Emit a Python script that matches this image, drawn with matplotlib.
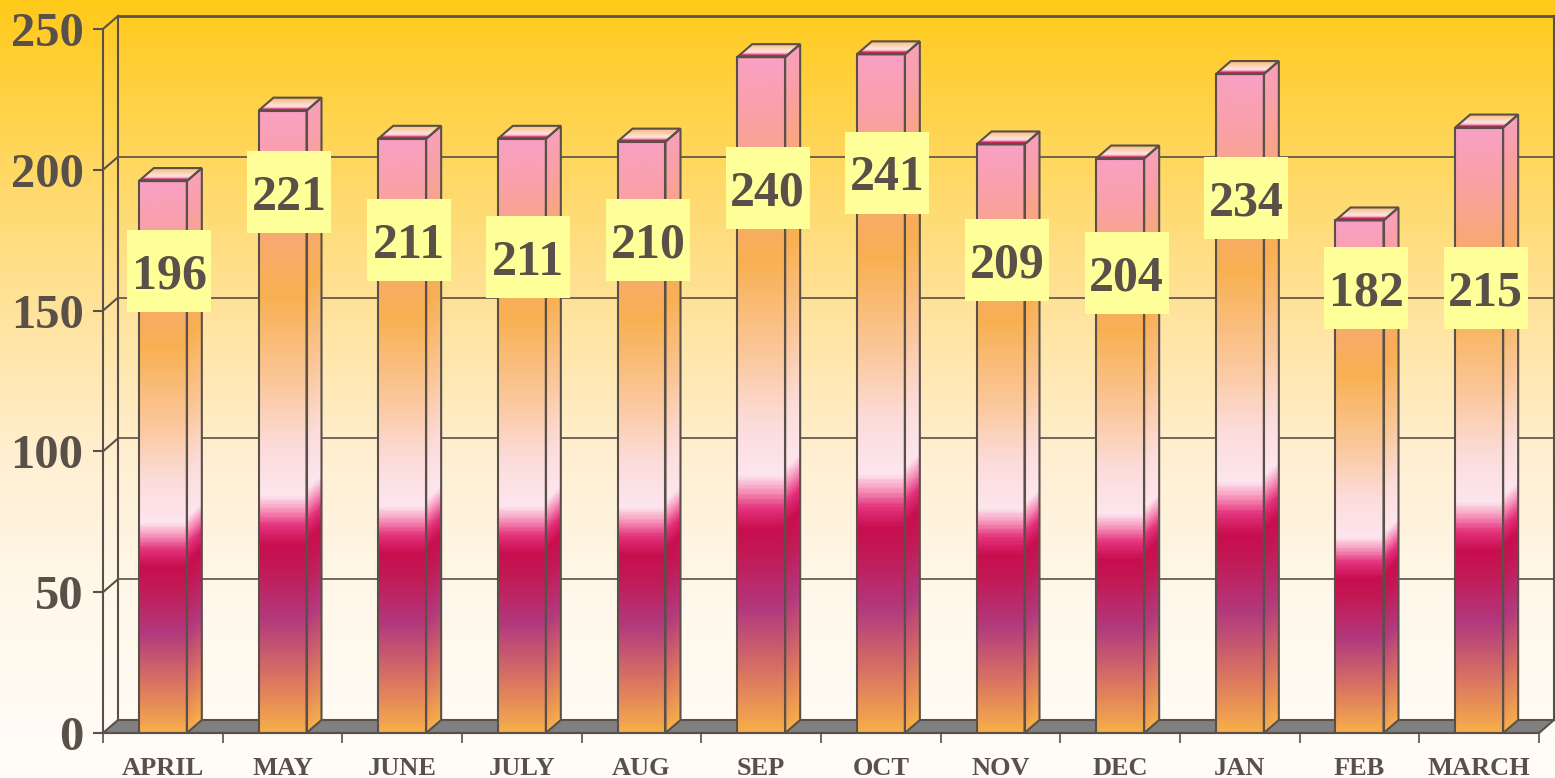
import numpy as np
import matplotlib
matplotlib.use("Agg")
import matplotlib.pyplot as plt
from matplotlib.colors import LinearSegmentedColormap
from matplotlib.patches import Polygon, Rectangle

# data
months = ["APRIL", "MAY", "JUNE", "JULY", "AUG", "SEP",
          "OCT", "NOV", "DEC", "JAN", "FEB", "MARCH"]
values = [196, 221, 211, 211, 210, 240, 241, 209, 204, 234, 182, 215]
yticks = [0, 50, 100, 150, 200, 250]

# where the value boxes sit (data units) - not tied to the bar tops
label_y = [164, 192, 175, 169, 175, 193.5, 199, 168, 163.5, 190, 158, 158]

plt.rcParams["font.family"] = ["Liberation Serif", "DejaVu Serif"]
plt.rcParams["font.weight"] = "bold"

INK = "#595049"
W, H = 1555, 778
fig = plt.figure(figsize=(W / 100, H / 100), dpi=100)

# ── background gradient over the whole figure ──
bg = fig.add_axes([0, 0, 1, 1], zorder=0)
bg_cmap = LinearSegmentedColormap.from_list("bg", [
    (0.00, "#FFFDF8"), (0.22, "#FFF8EB"), (0.40, "#FFF0D4"),
    (0.58, "#FFE4A2"), (0.78, "#FFD864"), (1.00, "#FFCA1A")])
bg.imshow(np.linspace(0, 1, 256).reshape(-1, 1), aspect="auto", cmap=bg_cmap,
          origin="lower", extent=[0, 1, 0, 1])
bg.axis("off")

# front plane of the 3d box
ax = fig.add_axes([103 / W, 45 / H, 1436 / W, 704 / H], zorder=1)
ax.patch.set_alpha(0)

n = len(months)
px_x = 1436 / n        # pixels per category
px_y = 704 / 250       # pixels per unit
dx = 15 / px_x         # depth offset
dy = 13 / px_y
bw = 48 / px_x         # bar width

# ── back wall, grid and floor ──
for y in yticks[1:]:
    ax.plot([dx, n + dx], [y + dy, y + dy], color=INK, lw=1.2 if y < 250 else 2,
            clip_on=False, zorder=1)
    ax.plot([0, dx], [y, y + dy], color=INK, lw=1.5, clip_on=False, zorder=1)
ax.plot([dx, dx], [dy, 250 + dy], color=INK, lw=1.5, clip_on=False, zorder=1)
ax.plot([n + dx, n + dx], [dy, 250 + dy], color=INK, lw=1.5, clip_on=False, zorder=1)
floor = Polygon([(0, 0), (n, 0), (n + dx, dy), (dx, dy)], closed=True,
                facecolor="#808080", edgecolor=INK, lw=1.5, clip_on=False, zorder=2)
ax.add_patch(floor)

# ── bars ──
bar_cmap = LinearSegmentedColormap.from_list("bar", [
    (0.00, "#F6AE4A"), (0.08, "#DC7860"), (0.18, "#B23A7E"), (0.26, "#C21A56"),
    (0.30, "#C80E4E"), (0.33, "#E2307A"), (0.355, "#F68CB6"), (0.38, "#FDE6EE"),
    (0.46, "#FCDCDA"), (0.56, "#FBC89C"), (0.70, "#F8B052"), (0.82, "#F8A878"),
    (0.92, "#F9A0A8"), (1.00, "#F9A0C4")])
top_cmap = LinearSegmentedColormap.from_list("top", [
    (0.00, "#E05070"), (0.12, "#C41050"), (0.26, "#F8B8C8"), (0.38, "#FDE6E2"),
    (0.62, "#FCD4B6"), (1.00, "#FBB874")])

for i, v in enumerate(values):
    x0 = i + 0.5 - bw / 2
    x1 = i + 0.5 + bw / 2
    z = 3 + i * 0.01

    # front face
    grad = np.linspace(0, 1, 400).reshape(-1, 1)
    ax.imshow(grad, extent=[x0, x1, 0, v], origin="lower", aspect="auto",
              cmap=bar_cmap, vmin=0, vmax=1, interpolation="bilinear", zorder=z)
    ax.add_patch(Rectangle((x0, 0), x1 - x0, v, facecolor="none", edgecolor=INK,
                           lw=1.5, zorder=z + 0.005))

    # side face, gradient follows the skew and runs a bit more orange
    yy = np.linspace(0, v + dy, 400).reshape(-1, 1)
    ss = np.linspace(0, 1, 10).reshape(1, -1)
    side = np.clip((yy - ss * dy) / v * 0.97, 0, 1)
    side_poly = Polygon([(x1, 0), (x1 + dx, dy), (x1 + dx, v + dy), (x1, v)],
                        closed=True, facecolor="none", edgecolor=INK, lw=1.5,
                        zorder=z + 0.005)
    im = ax.imshow(side, extent=[x1, x1 + dx, 0, v + dy], origin="lower",
                   aspect="auto", cmap=bar_cmap, vmin=0, vmax=1,
                   interpolation="bilinear", zorder=z)
    ax.add_patch(side_poly)
    im.set_clip_path(side_poly)

    # top face
    tt = np.linspace(0, 1, 60).reshape(-1, 1) * np.ones((1, 4))
    top_poly = Polygon([(x0, v), (x1, v), (x1 + dx, v + dy), (x0 + dx, v + dy)],
                       closed=True, facecolor="none", edgecolor=INK, lw=1.5,
                       zorder=z + 0.005)
    im = ax.imshow(tt, extent=[x0, x1 + dx, v, v + dy], origin="lower",
                   aspect="auto", cmap=top_cmap, vmin=0, vmax=1,
                   interpolation="bilinear", zorder=z)
    ax.add_patch(top_poly)
    im.set_clip_path(top_poly)

# ── value boxes ──
box_w = 84 / px_x
box_h = 82 / px_y
for i, (v, ly) in enumerate(zip(values, label_y)):
    cx = i + 0.5 + 6.5 / px_x
    ax.add_patch(Rectangle((cx - box_w / 2, ly - box_h / 2), box_w, box_h,
                           facecolor="#FFFF99", edgecolor="none", zorder=10))
    ax.text(cx, ly, str(v), ha="center", va="center_baseline", fontsize=36,
            fontweight="bold", color=INK, zorder=11)

# ── axes ──
ax.set_xlim(0, n)
ax.set_ylim(0, 250)
for side_name in ["top", "right"]:
    ax.spines[side_name].set_visible(False)
for side_name in ["left", "bottom"]:
    ax.spines[side_name].set_color(INK)
    ax.spines[side_name].set_linewidth(1.5)
    ax.spines[side_name].set_zorder(5)

ax.set_yticks(yticks)
ax.tick_params(axis="y", length=7, width=1.5, color=INK, pad=7,
               labelsize=35, labelcolor=INK)
ax.set_xticks(np.arange(n) + 0.5)
ax.set_xticklabels(months)
ax.set_xticks(np.arange(n + 1), minor=True)
ax.tick_params(axis="x", which="major", length=0, pad=17, labelsize=19,
               labelcolor=INK)
ax.tick_params(axis="x", which="minor", length=7, width=1.2, color=INK)

plt.savefig("out.png", dpi=100)
plt.close()
